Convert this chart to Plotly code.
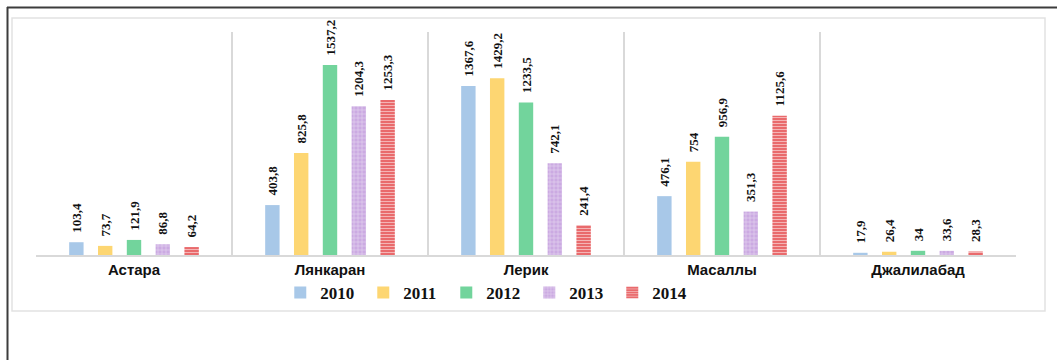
import plotly.graph_objects as go

# Regions and yearly values
regions = ["Астара", "Лянкаран", "Лерик", "Масаллы", "Джалилабад"]
years = ["2010", "2011", "2012", "2013", "2014"]
v2010 = [103.4, 403.8, 1367.6, 476.1, 17.9]
v2011 = [73.7, 825.8, 1429.2, 754, 26.4]
v2012 = [121.9, 1537.2, 1233.5, 956.9, 34]
v2013 = [86.8, 1204.3, 742.1, 351.3, 33.6]
v2014 = [64.2, 1253.3, 241.4, 1125.6, 28.3]
series = [v2010, v2011, v2012, v2013, v2014]

colors = ["#a8c8e8", "#fdd672", "#72d49c", "#cbaae2", "#e96a6c"]
patterns = [
    dict(shape=""),
    dict(shape=""),
    dict(shape=""),
    dict(shape="+", fgcolor="#ffffff", fgopacity=0.55, size=4, solidity=0.25),
    dict(shape="-", fgcolor="#ffffff", fgopacity=0.55, size=3, solidity=0.3),
]


def fmt(v):
    s = f"{v:.1f}".replace(".", ",")
    return s[:-2] if s.endswith(",0") else s


fig = go.Figure()
for name, vals, col, pat in zip(years, series, colors, patterns):
    fig.add_trace(go.Bar(
        name=name, x=regions, y=vals,
        marker=dict(color=col, line=dict(width=0), pattern=pat),
        text=["\u00a0\u00a0" + fmt(v) for v in vals],
        textposition="outside", textangle=-90, constraintext="none",
        cliponaxis=False,
        textfont=dict(family="Liberation Serif", size=13, color="#111111", weight="bold"),
        hoverinfo="skip",
    ))

# plot area in pixels: x 36..1016, y 32..255
L, R, T, B, W, H = 36, 1016, 32, 255, 1057, 360


def px(x):
    return (x - L) / (R - L)


def py(y):
    return (B - y) / (B - T)


shapes = [
    # light inner frame
    dict(type="rect", xref="paper", yref="paper",
         x0=px(12), x1=px(1045), y0=py(311), y1=py(18),
         line=dict(color="#e2e2e2", width=1.5), layer="below"),
    # dark outer frame (top and left edges)
    dict(type="line", xref="paper", yref="paper",
         x0=px(7), x1=px(1060), y0=py(7.5), y1=py(7.5),
         line=dict(color="#3c3c3c", width=2)),
    dict(type="line", xref="paper", yref="paper",
         x0=px(7.5), x1=px(7.5), y0=py(7), y1=py(365),
         line=dict(color="#3c3c3c", width=2)),
]

fig.update_layout(
    width=W, height=H,
    margin=dict(l=L, r=W - R, t=T, b=H - B),
    paper_bgcolor="white", plot_bgcolor="white",
    barmode="group", bargap=0.265, bargroupgap=0.5,
    showlegend=True,
    legend=dict(orientation="h", x=0.461, xanchor="center", y=py(293), yanchor="middle",
                font=dict(family="Liberation Serif", size=17, color="#111111", weight="bold"),
                entrywidth=38, entrywidthmode="pixels", itemwidth=30,
                bgcolor="rgba(0,0,0,0)"),
    shapes=shapes,
    xaxis=dict(type="category", tickson="boundaries", showgrid=True,
               gridcolor="#d9d9d9", gridwidth=1.5,
               showline=True, linecolor="#d9d9d9", linewidth=1.5,
               ticks="", ticklen=0,
               tickfont=dict(family="Liberation Sans", size=15, color="#111111", weight="bold")),
    yaxis=dict(range=[0, 1804], visible=False, showgrid=False, zeroline=False),
)

fig.write_html("out.html")
